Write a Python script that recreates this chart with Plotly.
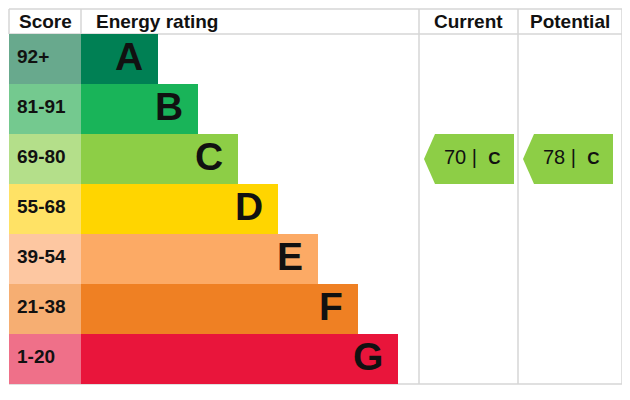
import plotly.graph_objects as go

# EPC bands, top (best) to bottom (worst)
bands = ["A", "B", "C", "D", "E", "F", "G"]
score_ranges = ["92+", "81-91", "69-80", "55-68", "39-54", "21-38", "1-20"]
band_lengths = [77, 117, 157, 197, 237, 277, 317]
band_colors = ["#008054", "#19b459", "#8dce46", "#ffd500", "#fcaa65", "#ef8023", "#e9153b"]
score_colors = ["#68a98d", "#74c98f", "#b4df8a", "#ffe265", "#fdc7a1", "#f6ae72", "#ef7089"]
band_mins = [92, 81, 69, 55, 39, 21, 1]

current_score = 70
potential_score = 78

FONT = "Arial, Liberation Sans, sans-serif"
GRID = "#d6d6d6"
SCORE_X0, SCORE_W = 9, 72
BAR_X0 = SCORE_X0 + SCORE_W
COLS = {"Current": (419, 518), "Potential": (518, 622)}
LEFT, RIGHT = 9, 622
PAGE_OFFSET = 8  # body margin of the html page


def band_of(score):
    for i, lo in enumerate(band_mins):
        if score >= lo:
            return i
    return len(bands) - 1


rows = list(range(len(bands)))

fig = go.Figure()
fig.add_trace(go.Bar(
    y=rows, x=[SCORE_W] * len(rows), base=SCORE_X0, orientation="h", width=1,
    marker=dict(color=score_colors, line=dict(width=0)), hoverinfo="skip",
))
fig.add_trace(go.Bar(
    y=rows, x=band_lengths, base=BAR_X0, orientation="h", width=1,
    marker=dict(color=band_colors, line=dict(width=0)), hoverinfo="skip",
))

# score range labels and band letters
for i, (rng, letter, length) in enumerate(zip(score_ranges, bands, band_lengths)):
    fig.add_annotation(x=SCORE_X0 + 6, y=i - 0.05, text=f"<b>{rng}</b>", showarrow=False,
                       xanchor="left", font=dict(family=FONT, size=19, color="#111"))
    fig.add_annotation(x=BAR_X0 + length - 13, y=i - 0.05, text=f"<b>{letter}</b>", showarrow=False,
                       xanchor="right", font=dict(family=FONT, size=39, color="#111"))

# headers
hdr_font = dict(family=FONT, size=19, color="#111")
fig.add_annotation(x=SCORE_X0 + SCORE_W / 2, y=-0.76, text="<b>Score</b>", showarrow=False, font=hdr_font)
fig.add_annotation(x=BAR_X0 + 13, y=-0.76, text="<b>Energy rating</b>", showarrow=False,
                   xanchor="left", font=hdr_font)
for name, (x0, x1) in COLS.items():
    fig.add_annotation(x=(x0 + x1) / 2, y=-0.76, text=f"<b>{name}</b>", showarrow=False, font=hdr_font)

# arrows for current / potential
for name, score in [("Current", current_score), ("Potential", potential_score)]:
    x0, _ = COLS[name]
    r = band_of(score)
    tip, shoulder, end = x0 + 5, x0 + 16, x0 + 95
    fig.add_trace(go.Scatter(
        x=[tip, shoulder, end, end, shoulder, tip],
        y=[r, r - 0.5, r - 0.5, r + 0.5, r + 0.5, r],
        fill="toself", fillcolor=band_colors[r], mode="none", hoverinfo="skip",
    ))
    fig.add_annotation(
        x=(shoulder + end) / 2 - 3, y=r - 0.04,
        text=f"{score} |\u00a0\u00a0<b><span style='font-size:17px'>{bands[r]}</span></b>",
        showarrow=False, font=dict(family=FONT, size=20, color="#111"),
    )

# grid lines
line = dict(color=GRID, width=1.5)
for yy in (-1.0, -0.5, len(bands) - 0.5):
    fig.add_shape(type="line", x0=LEFT, x1=RIGHT, y0=yy, y1=yy, line=line, layer="below")
for xx in (COLS["Current"][0], COLS["Potential"][0], RIGHT):
    fig.add_shape(type="line", x0=xx, x1=xx, y0=-1.0, y1=len(bands) - 0.5, line=line)
fig.add_shape(type="line", x0=LEFT, x1=LEFT, y0=-1.0, y1=-0.5, line=line)
fig.add_shape(type="line", x0=BAR_X0, x1=BAR_X0, y0=-1.0, y1=-0.5, line=line)

fig.update_layout(
    width=630, height=400, margin=dict(l=0, r=0, t=0, b=0),
    paper_bgcolor="white", plot_bgcolor="white",
    barmode="overlay", bargap=0, showlegend=False,
    xaxis=dict(range=[PAGE_OFFSET, 630 + PAGE_OFFSET], visible=False, fixedrange=True),
    yaxis=dict(range=[(400 + PAGE_OFFSET - 59) / 50, (PAGE_OFFSET - 59) / 50],
               visible=False, fixedrange=True),
)

fig.write_html("out.html")
